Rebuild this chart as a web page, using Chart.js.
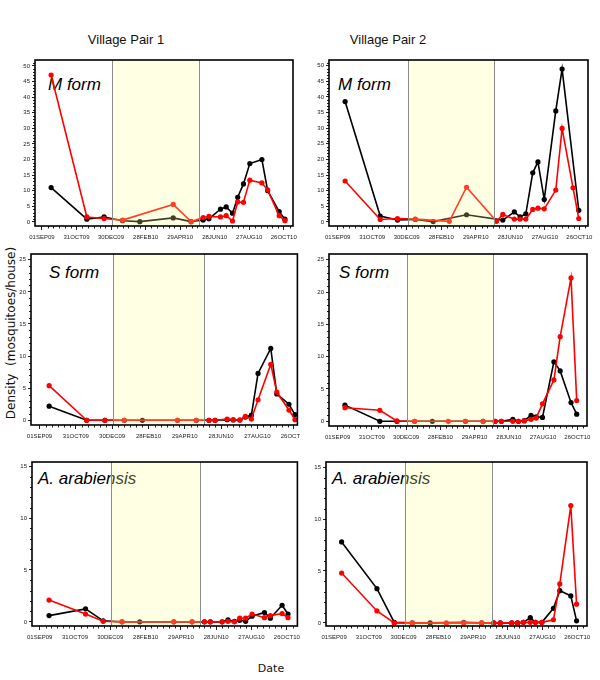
<!DOCTYPE html>
<html>
<head>
<meta charset="utf-8">
<script src="https://cdn.jsdelivr.net/npm/chart.js@4.4.1/dist/chart.umd.min.js"></script>
<style>
  html, body { margin: 0; padding: 0; background: #fff; }
  #wrap { position: relative; width: 600px; height: 680px; overflow: hidden; background: #fff; }
  canvas { position: absolute; z-index: 2; }
  .txt { position: absolute; z-index: 1; white-space: nowrap; color: #111; }
  .title { font-family: "Liberation Sans", Arial, sans-serif; font-size: 13px; transform: translate(-50%, -50%); }
  .plab { font-family: "Liberation Sans", Arial, sans-serif; font-style: italic; font-size: 17px; transform: translateY(-50%); color: #000; }
  .axl { font-family: "DejaVu Sans", sans-serif; }
</style>
</head>
<body>
<div id="wrap">
  <div class="txt title" style="left:126px; top:39px;">Village Pair 1</div>
  <div class="txt title" style="left:388px; top:39px;">Village Pair 2</div>
  <div class="txt axl" style="left:271px; top:668px; font-size:11px; transform:translate(-50%,-50%);">Date</div>
  <div class="txt axl" style="left:11px; top:333px; font-size:12px; transform:translate(-50%,-50%) rotate(-90deg);">Density&nbsp;&nbsp;(mosquitoes/house)</div>
  <div class="txt plab" style="left:48px; top:85px;">M form</div>
  <div class="txt plab" style="left:338px; top:85px;">M form</div>
  <div class="txt plab" style="left:49px; top:273px;">S form</div>
  <div class="txt plab" style="left:339px; top:273px;">S form</div>
  <div class="txt plab" style="left:38px; top:479px;">A. arabiensis</div>
  <div class="txt plab" style="left:332px; top:479px;">A. arabiensis</div>
</div>
<script>
// ---------- data ----------
const tickDays   = [0, 60, 120, 180, 240, 300, 360, 420];           // days since 01SEP09
const tickLabels = ['01SEP09','31OCT09','30DEC09','28FEB10','29APR10','28JUN10','27AUG10','26OCT10'];
const drySeason  = [122, 272];                                       // 01JAN10 .. 31MAY10

const yTicksM = [0, 5, 10, 15, 20, 25, 30, 35, 40, 45, 50];
const yTicksS = [0, 5, 10, 15, 20, 25];
const yTicksA = [0, 5, 10, 15];

const daysVP1 = [16, 78, 108, 140, 170, 228, 259, 280, 290, 310, 320, 331, 340, 350, 361, 382, 392, 412, 422];
const daysVP2 = [13, 74, 104, 135, 166, 194, 224, 255, 276, 287, 307, 317, 327, 339, 348, 359, 379, 390, 409, 419];

const mFormVP1Black = [11.0, 0.9, 1.6, 0.4, 0.1, 1.3, 0.1, 0.6, 1.0, 4.1, 4.8, 2.8, 7.9, 12.2, 18.7, 20.0, 10.0, 3.3, 0.9];
const mFormVP1Red   = [47.1, 1.6, 1.1, 0.6, null, 5.6, 0.1, 1.4, 1.8, 1.6, 2.0, 0.3, 6.4, 6.3, 13.4, 12.5, 10.3, 2.0, 0.4];
const sFormVP1Black = [2.2, 0, 0, 0, 0, 0, 0, 0, 0, 0.1, 0.05, 0.05, 0.5, 0.8, 7.3, 11.2, 4.1, 2.5, 0.9];
const sFormVP1Red   = [5.4, 0, 0, 0, null, 0, 0, 0, 0, 0.2, 0.1, 0.05, 0.6, 0.2, 3.2, 8.7, 4.4, 1.6, 0.1];
const arabVP1Black  = [0.6, 1.25, 0.1, 0, 0, 0, 0, 0, 0, 0, 0.2, 0.05, 0.15, 0.05, 0.55, 0.9, 0.35, 1.6, 0.75];
const arabVP1Red    = [2.1, 0.75, 0.05, 0, null, 0, 0, 0, 0, 0, 0.05, 0, 0.35, 0.35, 0.75, 0.4, 0.6, 0.8, 0.4];

const mFormVP2Black = [38.5, 1.9, 0.6, 0.8, 0.1, null, 2.3, null, null, 0.6, 3.2, 1.6, 2.6, 15.7, 19.2, 7.2, 35.5, 48.9, null, 3.7];
const mFormVP2Red   = [13.1, 0.8, 1.1, 0.9, null, 0.2, 11.1, null, 0.2, 2.4, 0.9, 0.9, 0.9, 4.0, 4.4, 4.2, 10.2, 29.9, 10.9, 1.1];
const sFormVP2Black = [2.5, 0, 0, 0, 0, null, 0, 0, 0, 0, 0.3, 0, 0.1, 0.9, 0.7, 0.6, 9.2, 7.8, 2.9, 1.1];
const sFormVP2Red   = [2.1, 1.7, 0.05, 0, null, 0, 0, 0, 0, 0, 0, 0, 0.05, 0.3, 0.5, 2.7, 6.4, 13.1, 22.2, 3.2];
const arabVP2Black  = [7.8, 3.3, 0.05, 0, 0, null, 0.05, 0, 0, 0, 0, 0, 0.05, 0.5, 0.05, 0.05, 1.4, 3.1, 2.6, 0.2];
const arabVP2Red    = [4.8, 1.15, 0, 0, null, 0, 0, 0, 0, 0, 0, 0, 0.05, 0.05, 0.05, 0.05, 0.3, 3.75, 11.3, 1.8];

// ---------- layout (panel boxes in page pixels) ----------
const panels = [
  { box: [35, 293, 60, 226],  x: [-12, 436], y: [-1.3, 51.9],  yt: yTicksM, days: daysVP1, black: mFormVP1Black, red: mFormVP1Red, clipR: 300 },
  { box: [329, 588, 60, 226], x: [-15, 435], y: [-1.3, 51.8],  yt: yTicksM, days: daysVP2, black: mFormVP2Black, red: mFormVP2Red, clipR: 600 },
  { box: [31, 298, 254, 425], x: [-14, 426], y: [-0.73, 25.9], yt: yTicksS, days: daysVP1, black: sFormVP1Black, red: sFormVP1Red, clipR: 300 },
  { box: [329, 587, 254, 426],x: [-15, 437], y: [-0.73, 25.9], yt: yTicksS, days: daysVP2, black: sFormVP2Black, red: sFormVP2Red, clipR: 600 },
  { box: [32, 299, 462, 626], x: [-13, 438], y: [-0.4, 15.4],  yt: yTicksA, days: daysVP1, black: arabVP1Black,  red: arabVP1Red,  clipR: 300 },
  { box: [326, 587, 462, 626],x: [-14, 437], y: [-0.3, 15.5],  yt: yTicksA, days: daysVP2, black: arabVP2Black,  red: arabVP2Red,  clipR: 600 }
];

const Y_W = 30, X_H = 22, PAD_T = 8;

const decor = {
  id: 'decor',
  afterDatasetsDraw(chart) {
    const { ctx, chartArea: a, scales: { x, y } } = chart;
    const x0 = x.getPixelForValue(drySeason[0]);
    const x1 = x.getPixelForValue(drySeason[1]);
    ctx.save();
    ctx.fillStyle = 'rgba(255,255,147,0.25)';
    ctx.fillRect(x0, a.top, x1 - x0, a.bottom - a.top);
    ctx.strokeStyle = '#8c8c8c';
    ctx.lineWidth = 1;
    [x0, x1].forEach(px => {
      ctx.beginPath();
      ctx.moveTo(Math.round(px) + 0.5, a.top);
      ctx.lineTo(Math.round(px) + 0.5, a.bottom);
      ctx.stroke();
    });
    // minor ticks
    ctx.strokeStyle = '#222';
    ctx.lineWidth = 1;
    for (let d = 0; d <= x.max; d += 10) {
      if (d % 60 === 0) continue;
      const px = Math.round(x.getPixelForValue(d)) + 0.5;
      ctx.beginPath(); ctx.moveTo(px, a.bottom); ctx.lineTo(px, a.bottom + 2.5); ctx.stroke();
    }
    for (let v = 0; v <= y.max; v += 1) {
      if (v % 5 === 0) continue;
      const py = Math.round(y.getPixelForValue(v)) + 0.5;
      ctx.beginPath(); ctx.moveTo(a.left, py); ctx.lineTo(a.left - 2, py); ctx.stroke();
    }
    ctx.strokeStyle = '#000';
    ctx.lineWidth = 1.6;
    ctx.strokeRect(a.left, a.top, a.right - a.left, a.bottom - a.top);
    ctx.restore();
  }
};

const wrap = document.getElementById('wrap');
const toPts = (days, vals) => days.map((d, i) => ({ x: d, y: vals[i] })).filter(p => p.y !== null);

panels.forEach(p => {
  const [bl, br, bt, bb] = p.box;
  const left = bl - Y_W;
  const top = bt - PAD_T;
  const w = p.clipR - left;
  const h = (bb - bt) + PAD_T + X_H;
  const cv = document.createElement('canvas');
  cv.width = w; cv.height = h;
  cv.style.left = left + 'px'; cv.style.top = top + 'px';
  cv.style.width = w + 'px'; cv.style.height = h + 'px';
  wrap.appendChild(cv);

  const ds = (vals, color) => ({
    data: toPts(p.days, vals),
    borderColor: color, backgroundColor: color,
    borderWidth: 1.6, pointRadius: 2.6, pointBorderWidth: 0,
    pointHoverRadius: 0, tension: 0, spanGaps: true, clip: false
  });

  new Chart(cv, {
    type: 'line',
    data: { datasets: [ds(p.red, '#ff0000'), ds(p.black, '#000000')] },
    options: {
      responsive: false, animation: false, devicePixelRatio: 1,
      events: [],
      layout: { padding: { left: 0, top: PAD_T, right: p.clipR - br, bottom: 0 } },
      plugins: { legend: { display: false }, tooltip: { enabled: false } },
      scales: {
        x: {
          type: 'linear', min: p.x[0], max: p.x[1],
          border: { display: false },
          grid: { display: true, drawOnChartArea: false, drawTicks: true, tickLength: 4, tickColor: '#222', tickWidth: 1 },
          ticks: {
            autoSkip: false, maxRotation: 0, minRotation: 0, padding: 4, color: '#222',
            font: { family: '"Liberation Sans", Arial, sans-serif', size: 6 },
            callback: v => { const i = tickDays.indexOf(v); return i >= 0 ? tickLabels[i] : ''; }
          },
          afterBuildTicks: s => { s.ticks = tickDays.map(v => ({ value: v })); },
          afterFit: s => { s.height = X_H; s.paddingLeft = 0; s.paddingRight = 0; }
        },
        y: {
          type: 'linear', min: p.y[0], max: p.y[1],
          border: { display: false },
          grid: { display: true, drawOnChartArea: false, drawTicks: true, tickLength: 3, tickColor: '#222', tickWidth: 1 },
          ticks: {
            padding: 2, color: '#222',
            font: { family: '"Liberation Sans", Arial, sans-serif', size: 6 },
            callback: v => String(v)
          },
          afterBuildTicks: s => { s.ticks = p.yt.map(v => ({ value: v })); },
          afterFit: s => { s.width = Y_W; s.paddingTop = 0; s.paddingBottom = 0; }
        }
      }
    },
    plugins: [decor]
  });
});
</script>
</body>
</html>
